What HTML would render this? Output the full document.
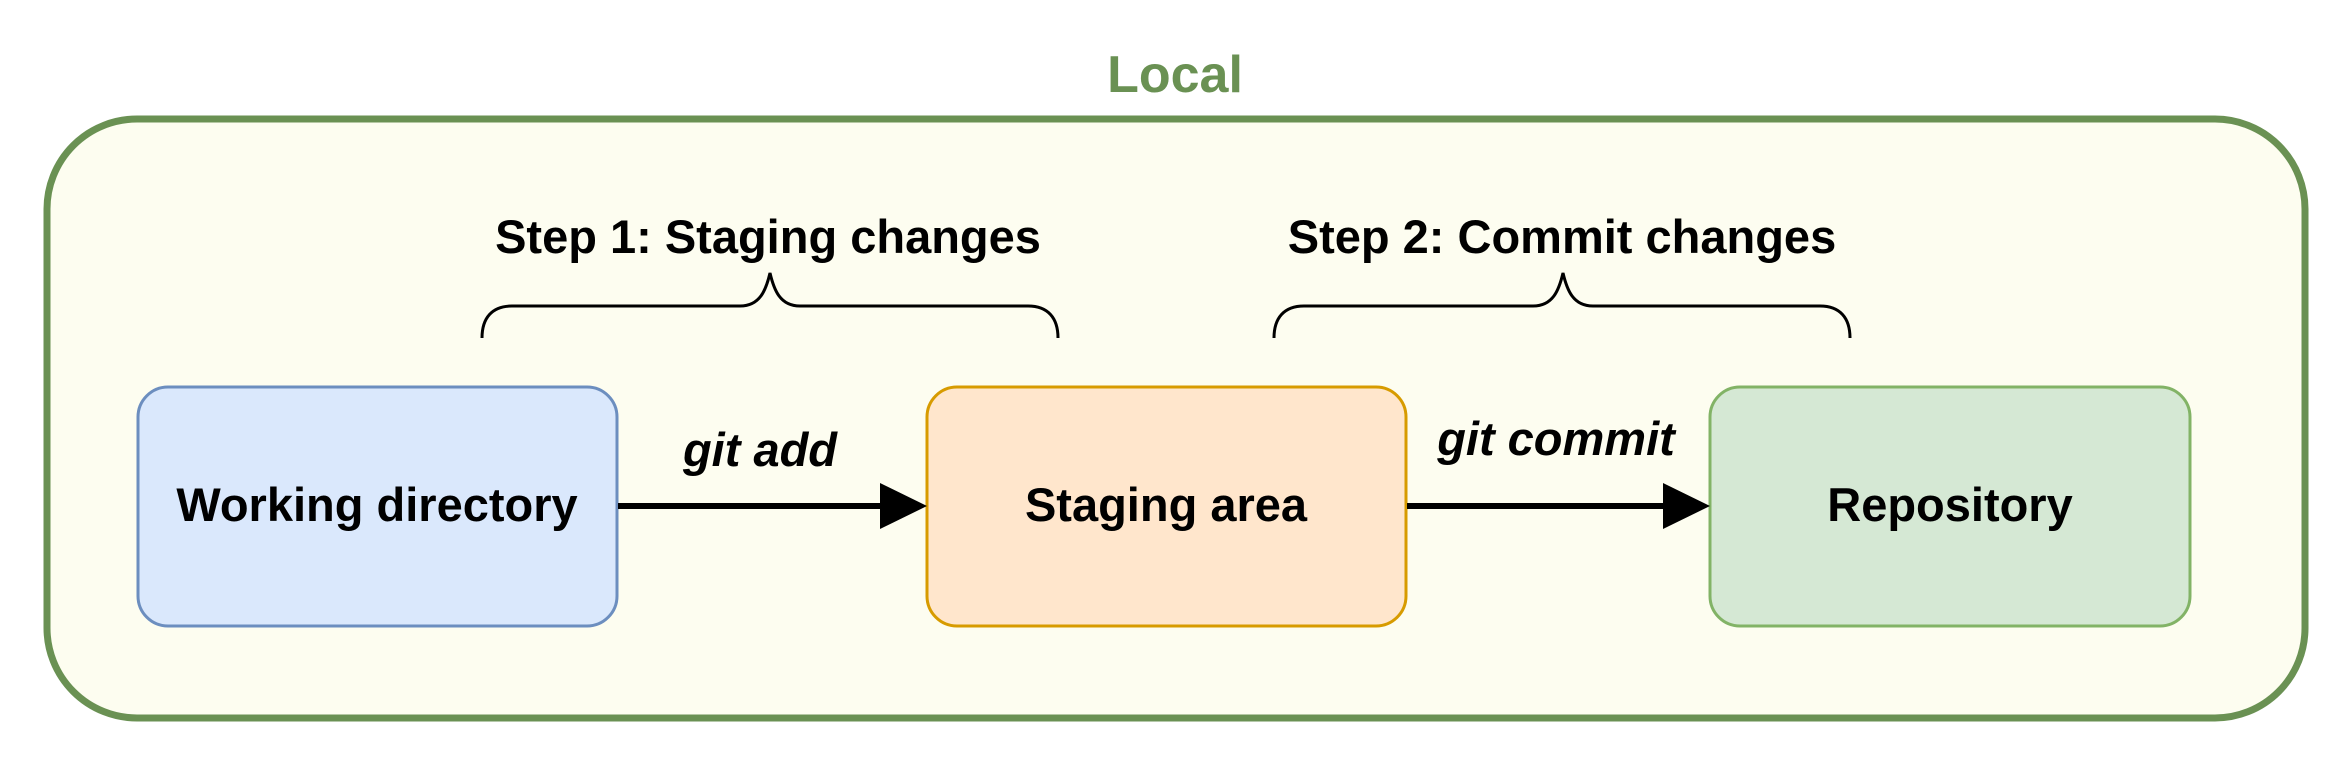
<!DOCTYPE html>
<html><head><meta charset="utf-8"><style>
html,body{margin:0;padding:0;background:#fff;}
svg{display:block;}
text{font-family:"Liberation Sans",Arial,sans-serif;font-weight:bold;}
</style></head><body>
<svg width="2352" height="760" viewBox="0 0 2352 760" xmlns="http://www.w3.org/2000/svg">
<text x="1175" y="92" text-anchor="middle" font-size="52" fill="#6a9153">Local</text>
<rect x="47" y="119" width="2258" height="599" rx="90" ry="90" fill="#fdfdf0" stroke="#6a9153" stroke-width="7"/>
<text x="768" y="253" text-anchor="middle" font-size="47" fill="#000">Step 1: Staging changes</text>
<text x="1562" y="253" text-anchor="middle" font-size="47" fill="#000">Step 2: Commit changes</text>
<path d="M482 338 C482 318 492 306 512 306 L740 306 C760 306 766 290 770 273 C774 290 780 306 800 306 L1028 306 C1048 306 1058 318 1058 338" fill="none" stroke="#000" stroke-width="3"/>
<path d="M1274 338 C1274 318 1284 306 1304 306 L1533 306 C1553 306 1559 290 1563 273 C1567 290 1573 306 1593 306 L1820 306 C1840 306 1850 318 1850 338" fill="none" stroke="#000" stroke-width="3"/>
<rect x="138" y="387" width="479" height="239" rx="30" fill="#dae8fc" stroke="#6c8ebf" stroke-width="3"/>
<rect x="927" y="387" width="479" height="239" rx="30" fill="#ffe6cc" stroke="#d79b00" stroke-width="3"/>
<rect x="1710" y="387" width="480" height="239" rx="30" fill="#d5e8d4" stroke="#82b366" stroke-width="3"/>
<text x="377" y="521" text-anchor="middle" font-size="47" fill="#000">Working directory</text>
<text x="1166" y="521" text-anchor="middle" font-size="47" fill="#000">Staging area</text>
<text x="1950" y="521" text-anchor="middle" font-size="47" fill="#000">Repository</text>
<line x1="618" y1="506" x2="884" y2="506" stroke="#000" stroke-width="6"/>
<polygon points="880,483 927,506 880,529" fill="#000"/>
<line x1="1407" y1="506" x2="1667" y2="506" stroke="#000" stroke-width="6"/>
<polygon points="1663,483 1710,506 1663,529" fill="#000"/>
<text x="760" y="466" text-anchor="middle" font-size="47" font-style="italic" fill="#000">git add</text>
<text x="1556" y="455" text-anchor="middle" font-size="47" font-style="italic" fill="#000">git commit</text>
</svg>
</body></html>
